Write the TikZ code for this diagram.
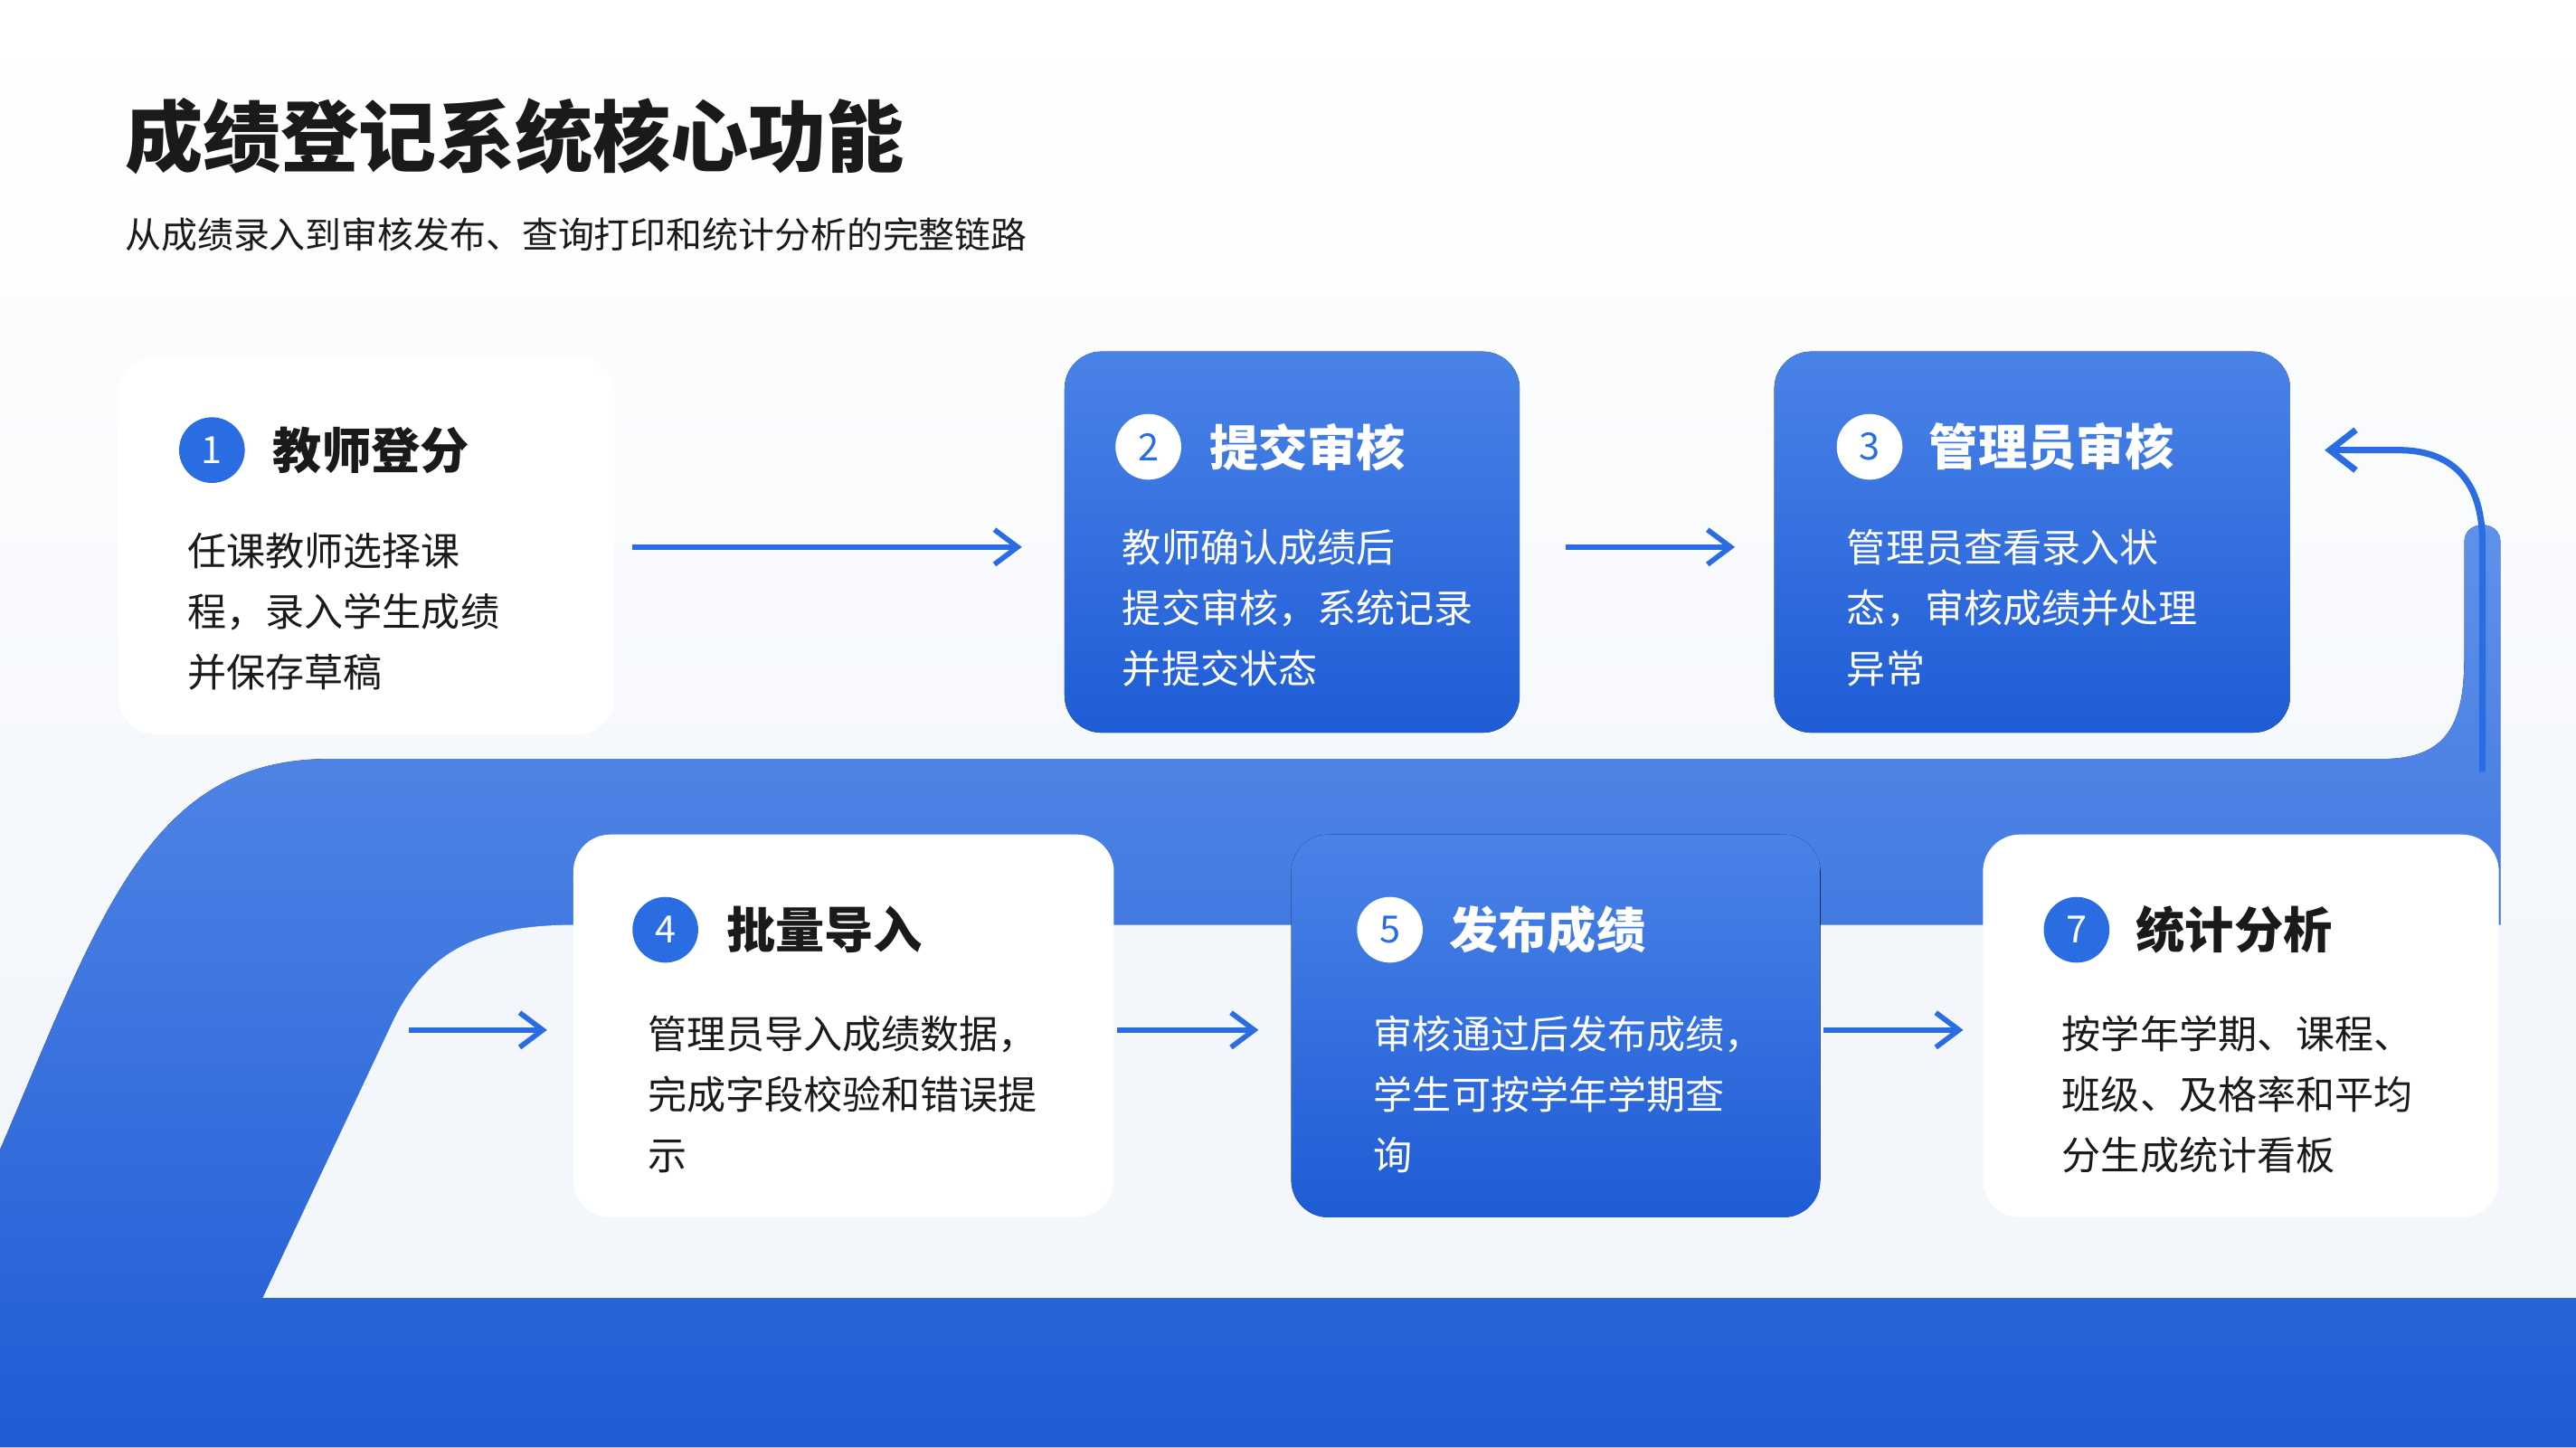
\documentclass[tikz,border=0pt]{standalone}
\usepackage{fontspec}
\setmainfont{Noto Sans CJK SC}
\usetikzlibrary{arrows.meta}
\definecolor{bl}{HTML}{2A6DE3}
\definecolor{bld}{HTML}{1E5CD6}
\definecolor{bgc}{HTML}{EEF3FA}
\definecolor{lane}{HTML}{F3F6FB}
\definecolor{txt}{HTML}{1A1A1A}
\begin{document}
\begin{tikzpicture}[x=0.02cm,y=-0.02cm,
  wcard/.style={fill=white,rounded corners=0.45cm},
  bcard/.style={top color=bl!85!white,bottom color=bld,rounded corners=0.45cm},
  num/.style={circle,minimum size=0.8cm,inner sep=0pt,font=\fontsize{13}{13}\selectfont},
  ttl/.style={anchor=west,font=\fontsize{17}{20}\selectfont\bfseries},
  body/.style={anchor=north west,align=left,font=\fontsize{13.5}{21}\selectfont},
  arr/.style={draw=bl,line width=1.8pt,-{Straight Barb[length=8pt,width=12pt]}}]
\useasboundingbox (0,0) rectangle (1568,881);
\fill[top color=white,bottom color=bgc] (0,0) rectangle (1568,881);
% blue ribbon
\fill[top color=bl!75!white,bottom color=bld] (0,881) -- (0,700) .. controls (60,560) and (90,462) .. (200,462) -- (1450,462) .. controls (1490,462) and (1500,440) .. (1500,400) -- (1500,330) .. controls (1500,316) and (1522,316) .. (1522,330) -- (1522,600) -- (1568,600) -- (1568,881) -- cycle;
\fill[lane] (160,790) -- (240,620) .. controls (260,580) and (290,563) .. (350,563) -- (1568,563) -- (1568,790) -- cycle;
\coordinate (rs) at (1511,470);
\coordinate (re) at (1415,274);
\draw[draw=bl,line width=2.2pt,-{Straight Barb[length=9pt,width=14pt]}] (rs) -- (1511,330) .. controls (1511,290) and (1490,274) .. (1460,274) -- (re);
% title
\node[anchor=west,font=\fontsize{27}{30}\selectfont\bfseries,text=txt] (title) at (70,83) {成绩登记系统核心功能};
\node[anchor=west,font=\fontsize{12.5}{15}\selectfont,text=txt] (sub) at (70,143) {从成绩录入到审核发布、查询打印和统计分析的完整链路};
% cards
\fill[wcard] (72,217) rectangle (374,447);
\node[num,fill=bl,text=white] (n1) at (129,274) {1};
\node[ttl,text=txt] (t1) at (160,274) {教师登分};
\node[body,text=txt] (b1) at (108,318) {任课教师选择课\\程，录入学生成绩\\并保存草稿};
\fill[bcard] (648,214) rectangle (925,446);
\node[num,fill=white,text=bl] (n2) at (699,272) {2};
\node[ttl,text=white] (t2) at (730,272) {提交审核};
\node[body,text=white] (b2) at (677,316) {教师确认成绩后\\提交审核，系统记录\\并提交状态};
\fill[bcard] (1080,214) rectangle (1394,446);
\node[num,fill=white,text=bl] (n3) at (1138,272) {3};
\node[ttl,text=white] (t3) at (1168,272) {管理员审核};
\node[body,text=white] (b3) at (1118,316) {管理员查看录入状\\态，审核成绩并处理\\异常};
\fill[wcard] (349,508) rectangle (678,741);
\node[num,fill=bl,text=white] (n4) at (405,566) {4};
\node[ttl,text=txt] (t4) at (436,566) {批量导入};
\node[body,text=txt] (b4) at (388,612) {管理员导入成绩数据，\\完成字段校验和错误提\\示};
\fill[bcard] (786,508) rectangle (1108,741);
\node[num,fill=white,text=bl] (n5) at (846,566) {5};
\node[ttl,text=white] (t5) at (876,566) {发布成绩};
\node[body,text=white] (b5) at (830,612) {审核通过后发布成绩，\\学生可按学年学期查\\询};
\fill[wcard] (1207,508) rectangle (1521,741);
\node[num,fill=bl,text=white] (n7) at (1264,566) {7};
\node[ttl,text=txt] (t7) at (1294,566) {统计分析};
\node[body,text=txt] (b7) at (1249,612) {按学年学期、课程、\\班级、及格率和平均\\分生成统计看板};
% arrows
\coordinate (a1) at (385,333); \coordinate (a2) at (622,333);
\coordinate (a3) at (953,333); \coordinate (a4) at (1056,333);
\coordinate (a5) at (249,627); \coordinate (a6) at (333,627);
\coordinate (a7) at (680,627); \coordinate (a8) at (766,627);
\coordinate (a9) at (1110,627); \coordinate (a10) at (1195,627);
\draw[arr] (a1) -- (a2);
\draw[arr] (a3) -- (a4);
\draw[arr] (a5) -- (a6);
\draw[arr] (a7) -- (a8);
\draw[arr] (a9) -- (a10);
\end{tikzpicture}
\end{document}
